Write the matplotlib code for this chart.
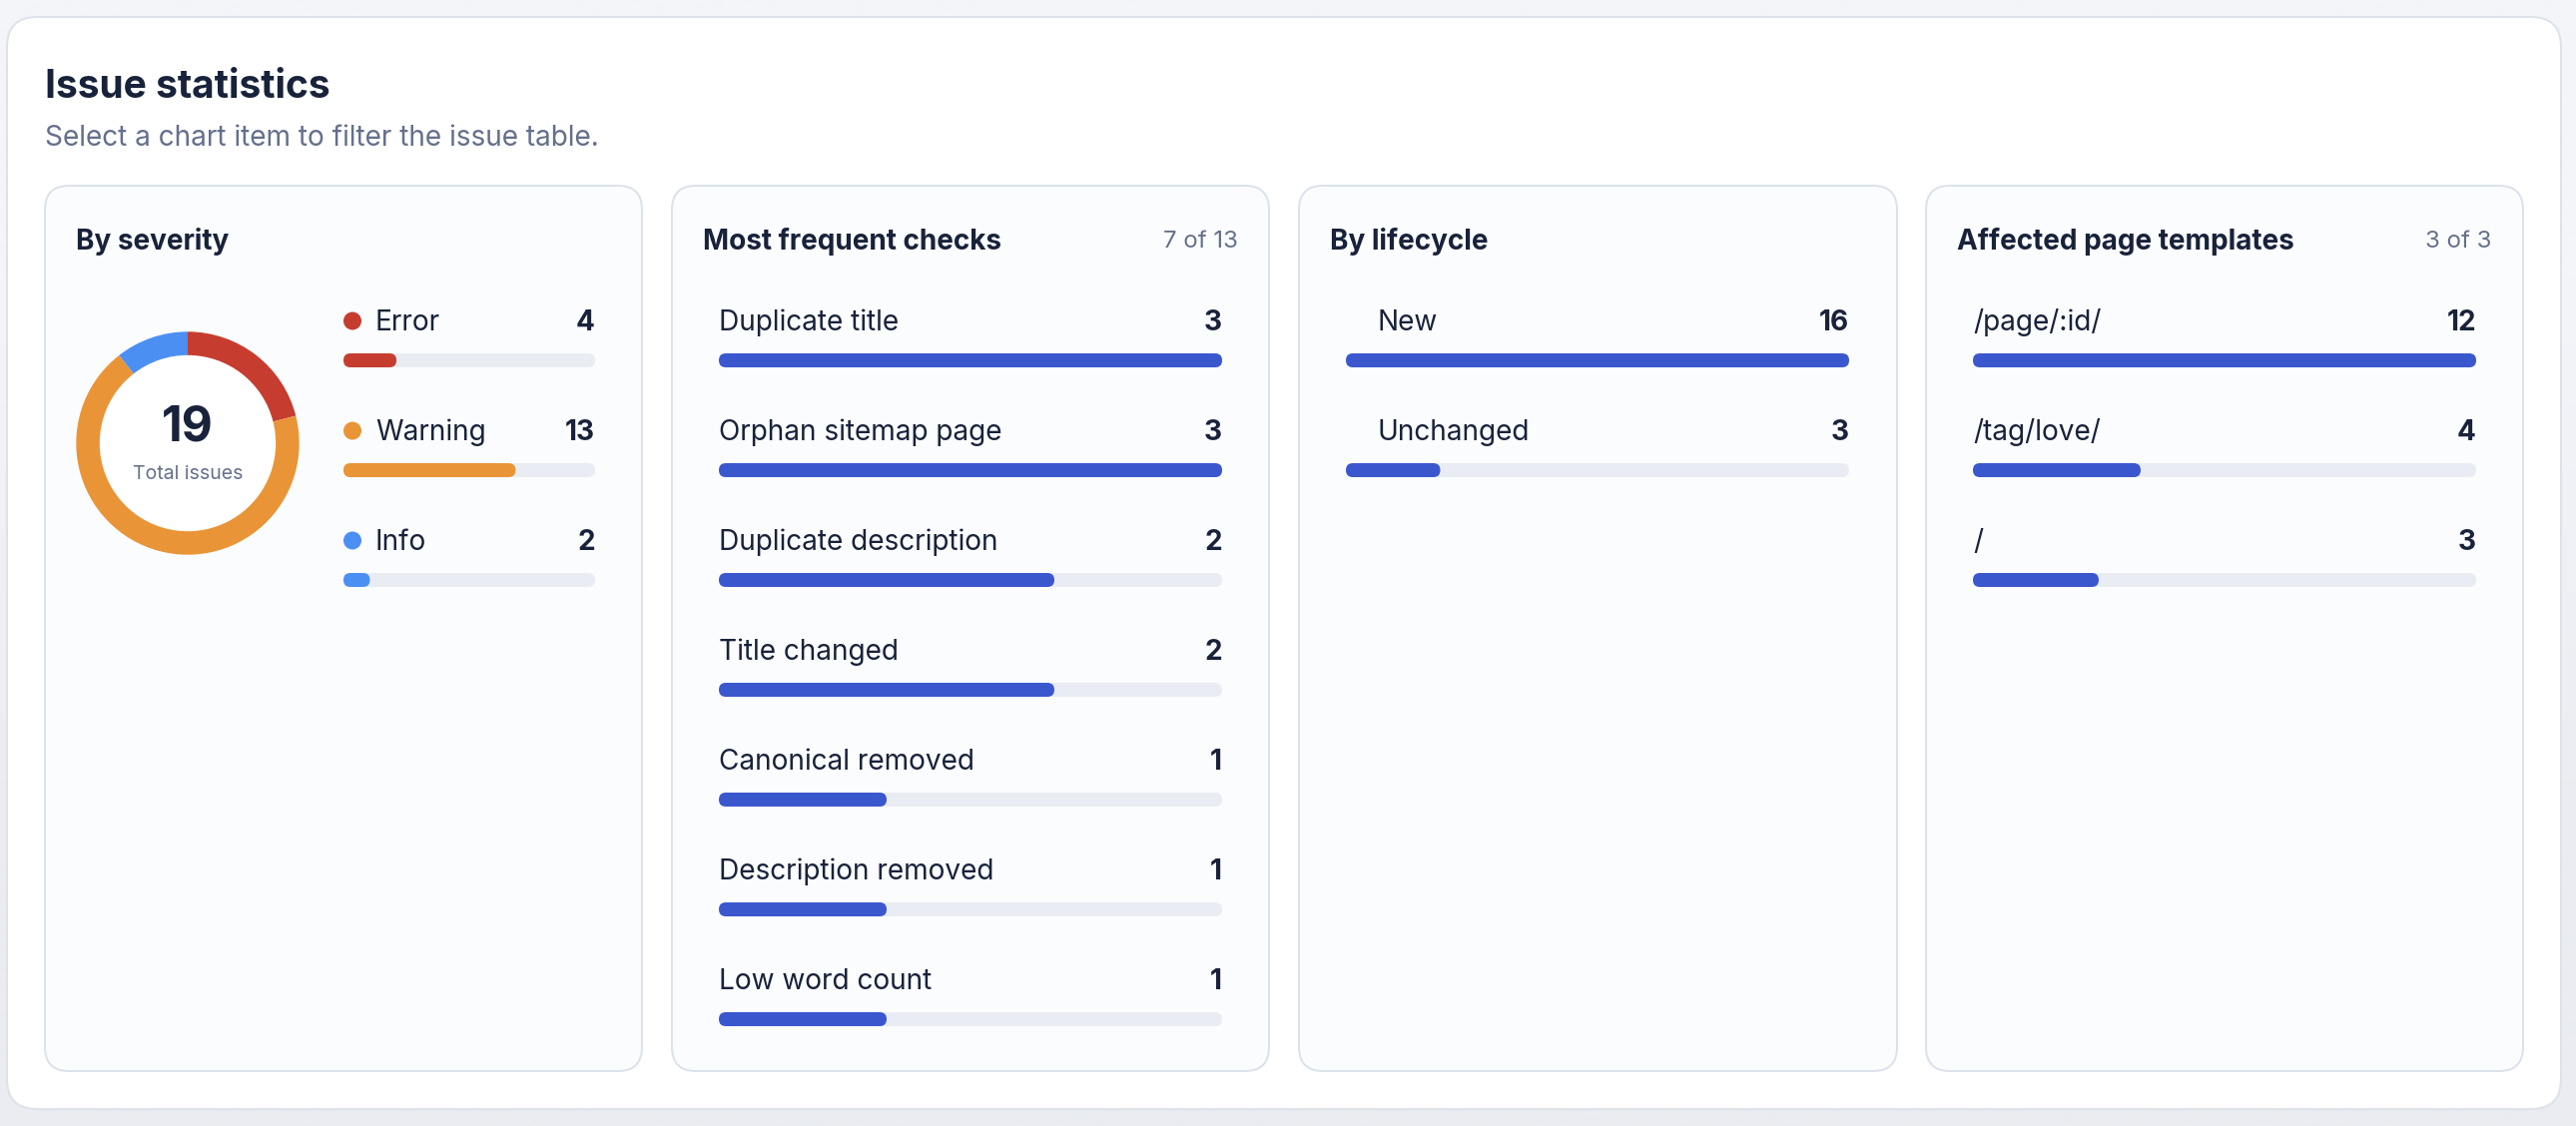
import matplotlib
matplotlib.use('Agg')
import matplotlib.pyplot as plt
from matplotlib.colors import to_rgb
from matplotlib.patches import FancyBboxPatch, Circle

# data
severity_names = ['Error', 'Warning', 'Info']
severity_counts = [4, 13, 2]
severity_colors = ['#C63D2F', '#E99537', '#4C8FF3']
check_names = ['Duplicate title', 'Orphan sitemap page', 'Duplicate description', 'Title changed',
               'Canonical removed', 'Description removed', 'Low word count']
check_counts = [3, 3, 2, 2, 1, 1, 1]
lifecycle_names = ['New', 'Unchanged']
lifecycle_counts = [16, 3]
template_names = ['/page/:id/', '/tag/love/', '/']
template_counts = [12, 4, 3]

DARK = '#18223A'
MUTED = '#64708A'
BLUE = '#3B57CE'
TRACK = '#E9ECF2'
BORDER = '#DCE2EB'
CARD = '#FBFCFE'

plt.rcParams['font.family'] = ['Inter', 'DejaVu Sans']

W, H = 2580, 1128
fig = plt.figure(figsize=(W/100, H/100), dpi=100, facecolor='#F0F2F6')
ax = fig.add_axes([0, 0, 1, 1])
# page background fades slightly towards the bottom
ax.imshow([[to_rgb('#F3F5F9')], [to_rgb('#EAECF1')]], extent=(0, W, H, 0), aspect='auto',
          interpolation='bilinear', zorder=0)
ax.set_xlim(0, W)
ax.set_ylim(H, 0)
ax.axis('off')


def px(size):
    # css pixels on the picture to points
    return size*0.72


def box(x0, y0, x1, y1, r, fc, ec=None, lw=2, z=1):
    ax.add_patch(FancyBboxPatch((x0, y0), x1-x0, y1-y0, boxstyle=f'round,pad=0,rounding_size={r}',
                                fc=fc, ec=ec if ec else 'none', lw=lw*0.72, zorder=z))


def max_count(counts, colors):
    # severity bars are share of the total, the others share of the largest
    return sum(counts) if colors else max(counts)


def rows(left, right, names, counts, colors=None, indent=0):
    top = 354
    for i, (name, count) in enumerate(zip(names, counts)):
        y = top + 110*i
        box(left, y, right, y+14, 7, TRACK, z=2)
        color = colors[i] if colors else BLUE
        box(left, y, left+(right-left)*count/max_count(counts, colors), y+14, 7, color, z=3)
        ax.text(left+indent, y-23, name, fontsize=px(28), color=DARK, va='baseline', ha='left')
        ax.text(right, y-23, str(count), fontsize=px(28), color=DARK, va='baseline', ha='right', weight='bold')
        if colors:
            ax.add_patch(Circle((left+9, y-32.5), 9, fc=color, ec='none', zorder=3))


box(7, 17, 2565, 1111, 30, 'white', '#DDE2EA')
ax.text(45, 97.5, 'Issue statistics', fontsize=px(39), weight='bold', color=DARK)
ax.text(45, 145.5, 'Select a chart item to filter the issue table.', fontsize=px(28), color=MUTED)

card_x = [(45, 643), (673, 1271), (1301, 1900), (1929, 2527)]
titles = ['By severity', 'Most frequent checks', 'By lifecycle', 'Affected page templates']
notes = [None, '7 of 13', None, '3 of 3']
for (x0, x1), title, note in zip(card_x, titles, notes):
    box(x0, 186, x1, 1073, 24, CARD, BORDER)
    ax.text(x0+31.5, 249.5, title, fontsize=px(27.9), weight='bold', color=DARK)
    if note:
        ax.text(x1-31.5, 248, note, fontsize=px(24), color=MUTED, ha='right')

rows(344, 596, severity_names, severity_counts, severity_colors, indent=32)
rows(720, 1224, check_names, check_counts)
rows(1348, 1852, lifecycle_names, lifecycle_counts, indent=32)
rows(1976, 2480, template_names, template_counts)

# donut goes in its own axes, ring 23.5 px wide out of 111.7 radius
dx, dy, dr = 188, 444, 111.7
donut = fig.add_axes([(dx-dr)/W, 1-(dy+dr)/H, 2*dr/W, 2*dr/H])
donut.pie(severity_counts, colors=severity_colors, startangle=90, counterclock=False, radius=1,
          wedgeprops={'width': 23.5/dr, 'linewidth': 0})
donut.set_xlim(-1, 1)
donut.set_ylim(-1, 1)
ax.add_patch(Circle((dx, dy), 88, fc='white', ec='none', zorder=1.5))
ax.text(dx, 441, str(sum(severity_counts)), fontsize=px(48), weight='bold', color=DARK, ha='center')
ax.text(dx, 480, 'Total issues', fontsize=px(19.5), color=MUTED, ha='center')

fig.savefig('out.png', dpi=100, facecolor=fig.get_facecolor())
